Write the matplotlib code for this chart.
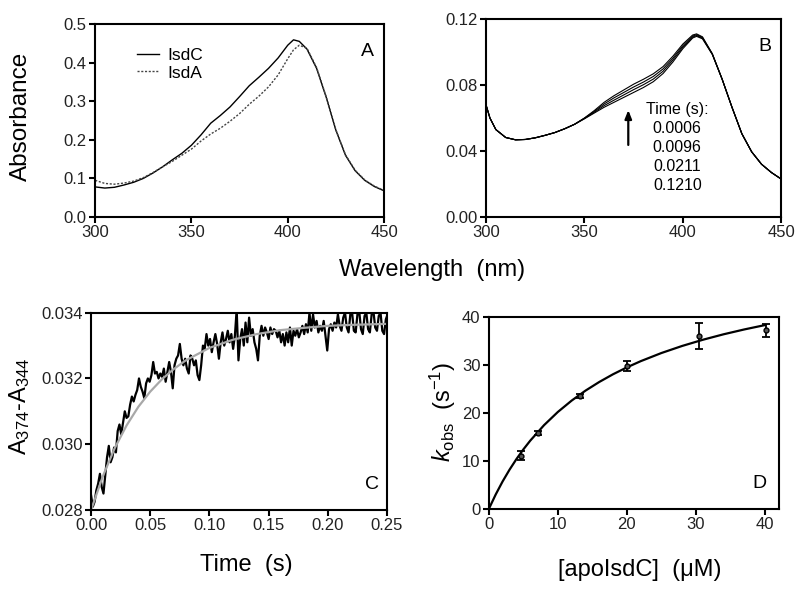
import matplotlib
matplotlib.use("Agg")
import matplotlib.pyplot as plt
import numpy as np

plt.rcParams["font.family"] = ["Liberation Sans", "DejaVu Sans"]
plt.rcParams["mathtext.fontset"] = "custom"
plt.rcParams["mathtext.rm"] = "Liberation Sans"
plt.rcParams["mathtext.it"] = "Liberation Sans:italic"
plt.rcParams["mathtext.default"] = "regular"

# Panel A: absorbance spectra
wl_a = [300, 305, 310, 315, 320, 325, 330, 335, 340, 345, 350, 355, 360, 365, 370, 375,
        380, 385, 390, 395, 400, 403, 406, 410, 415, 420, 425, 430, 435, 440, 445, 450]
abs_isdc = [0.078, 0.075, 0.077, 0.083, 0.090, 0.100, 0.114, 0.130, 0.148, 0.165, 0.186,
            0.213, 0.243, 0.263, 0.285, 0.312, 0.340, 0.362, 0.385, 0.412, 0.445, 0.459,
            0.455, 0.435, 0.385, 0.310, 0.225, 0.160, 0.120, 0.095, 0.079, 0.068]
abs_isda = [0.095, 0.087, 0.085, 0.088, 0.093, 0.102, 0.115, 0.130, 0.144, 0.160, 0.176,
            0.197, 0.215, 0.230, 0.248, 0.268, 0.292, 0.313, 0.337, 0.368, 0.410, 0.433,
            0.445, 0.437, 0.387, 0.311, 0.226, 0.161, 0.121, 0.096, 0.080, 0.069]

# Panel B: spectra at several times
wl_b = [300, 302, 305, 310, 315, 320, 325, 330, 335, 340, 345, 350, 355, 360, 365, 370, 375,
        380, 385, 390, 395, 400, 405, 407, 410, 415, 420, 425, 430, 435, 440, 445, 450]
spec_t1 = [0.0680, 0.0600, 0.0530, 0.0482, 0.0468, 0.0470, 0.0480, 0.0495, 0.0512, 0.0535,
           0.0562, 0.0595, 0.0630, 0.0665, 0.0695, 0.0725, 0.0755, 0.0785, 0.0820, 0.0870,
           0.0940, 0.1020, 0.1085, 0.1095, 0.1080, 0.0985, 0.0835, 0.0665, 0.0505, 0.0395,
           0.0320, 0.0270, 0.0230]
spec_t2 = [0.0680, 0.0600, 0.0530, 0.0482, 0.0468, 0.0470, 0.0480, 0.0495, 0.0512, 0.0535,
           0.0562, 0.0597, 0.0635, 0.0675, 0.0708, 0.0740, 0.0772, 0.0802, 0.0836, 0.0884,
           0.0952, 0.1029, 0.1091, 0.1100, 0.1084, 0.0987, 0.0835, 0.0665, 0.0505, 0.0395,
           0.0320, 0.0270, 0.0230]
spec_t3 = [0.0680, 0.0600, 0.0530, 0.0482, 0.0468, 0.0470, 0.0480, 0.0495, 0.0512, 0.0535,
           0.0562, 0.0599, 0.0640, 0.0685, 0.0722, 0.0755, 0.0788, 0.0818, 0.0852, 0.0898,
           0.0963, 0.1038, 0.1097, 0.1105, 0.1088, 0.0988, 0.0835, 0.0665, 0.0505, 0.0395,
           0.0320, 0.0270, 0.0230]
spec_t4 = [0.0680, 0.0600, 0.0530, 0.0482, 0.0468, 0.0470, 0.0480, 0.0495, 0.0512, 0.0535,
           0.0562, 0.0600, 0.0645, 0.0695, 0.0735, 0.0770, 0.0805, 0.0835, 0.0868, 0.0912,
           0.0975, 0.1048, 0.1103, 0.1110, 0.1092, 0.0990, 0.0835, 0.0665, 0.0505, 0.0395,
           0.0320, 0.0270, 0.0230]
time_labels = ["0.0006", "0.0096", "0.0211", "0.1210"]

# Panel C: stopped-flow trace (sampled every 1.5 ms) and fit
trace = [0.02845, 0.02810, 0.02825, 0.02860, 0.02880, 0.02910, 0.02870, 0.02850, 0.02905, 0.02960,
         0.02995, 0.02945, 0.02960, 0.02990, 0.02975, 0.03040, 0.03060, 0.03030, 0.03065, 0.03100,
         0.03080, 0.03085, 0.03120, 0.03145, 0.03130, 0.03150, 0.03165, 0.03200, 0.03175, 0.03160,
         0.03140, 0.03185, 0.03200, 0.03190, 0.03210, 0.03250, 0.03215, 0.03220, 0.03200, 0.03215,
         0.03205, 0.03230, 0.03190, 0.03220, 0.03250, 0.03220, 0.03170, 0.03240, 0.03260, 0.03270,
         0.03305, 0.03260, 0.03240, 0.03260, 0.03230, 0.03215, 0.03270, 0.03260, 0.03240, 0.03255,
         0.03210, 0.03195, 0.03240, 0.03300, 0.03290, 0.03335, 0.03300, 0.03320, 0.03280, 0.03310,
         0.03335, 0.03305, 0.03260, 0.03310, 0.03340, 0.03300, 0.03320, 0.03345, 0.03310, 0.03335,
         0.03290, 0.03330, 0.03410, 0.03255, 0.03320, 0.03350, 0.03300, 0.03370, 0.03310, 0.03385,
         0.03330, 0.03350, 0.03310, 0.03290, 0.03255, 0.03330, 0.03360, 0.03330, 0.03355, 0.03340,
         0.03320, 0.03355, 0.03335, 0.03350, 0.03345, 0.03325, 0.03345, 0.03310, 0.03335, 0.03300,
         0.03340, 0.03310, 0.03355, 0.03300, 0.03345, 0.03330, 0.03350, 0.03325, 0.03340, 0.03360,
         0.03335, 0.03365, 0.03340, 0.03400, 0.03345, 0.03395, 0.03355, 0.03375, 0.03340, 0.03360,
         0.03345, 0.03375, 0.03330, 0.03285, 0.03350, 0.03365, 0.03345, 0.03370, 0.03355, 0.03395,
         0.03360, 0.03345, 0.03385, 0.03400, 0.03355, 0.03340, 0.03395, 0.03400, 0.03345, 0.03340,
         0.03395, 0.03405, 0.03350, 0.03335, 0.03390, 0.03400, 0.03350, 0.03340, 0.03395, 0.03405,
         0.03355, 0.03345, 0.03390, 0.03400, 0.03345, 0.03335, 0.03380, 0.03395]
time_s = np.arange(len(trace)) * 0.0015
fit_t = [0.0, 0.01, 0.02, 0.03, 0.04, 0.05, 0.06, 0.07, 0.08, 0.10, 0.12, 0.14, 0.16, 0.18,
         0.20, 0.22, 0.25]
fit_a = [0.02800, 0.02903, 0.02988, 0.03057, 0.03114, 0.03160, 0.03198, 0.03229, 0.03255,
         0.03293, 0.03318, 0.03335, 0.03347, 0.03354, 0.03360, 0.03363, 0.03366]

# Panel D: kobs vs [apoIsdC]
conc = [4.6, 7.1, 13.2, 20.0, 30.5, 40.2]
kobs = [11.1, 15.9, 23.6, 29.8, 36.1, 37.2]
kobs_err = [0.9, 0.4, 0.4, 1.0, 2.7, 1.4]
fit_conc = [0, 1, 2, 3, 4, 5, 6, 8, 10, 12, 14, 16, 18, 20, 22, 25, 28, 31, 34, 37, 40]
fit_kobs = [0.0, 3.03, 5.75, 8.19, 10.40, 12.41, 14.24, 17.47, 20.22, 22.59, 24.66, 26.47,
            28.08, 29.51, 30.80, 32.50, 33.97, 35.26, 36.40, 37.41, 38.32]

fig = plt.figure(figsize=(8, 5.91), dpi=100)
axA = fig.add_axes([0.119, 0.6328, 0.361, 0.3266])
axB = fig.add_axes([0.6075, 0.6328, 0.369, 0.3350])
axC = fig.add_axes([0.1138, 0.1371, 0.370, 0.3338])
axD = fig.add_axes([0.611, 0.1387, 0.3625, 0.3249])

tick_col = "#222222"
for ax in (axA, axB, axC, axD):
    for s in ax.spines.values():
        s.set_linewidth(1.5)
    ax.tick_params(direction="out", length=4, width=1.5, labelsize=12,
                   labelcolor=tick_col, pad=2)

# A
axA.plot(wl_a, abs_isdc, color="black", lw=1.0, label="IsdC")
axA.plot(wl_a, abs_isda, color="#444444", lw=1.0, ls=(0, (1.5, 1.2)), label="IsdA")
axA.set_xlim(300, 450)
axA.set_ylim(0, 0.5)
axA.set_xticks([300, 350, 400, 450])
axA.set_yticks([0.0, 0.1, 0.2, 0.3, 0.4, 0.5])
axA.set_yticklabels(["0.0", "0.1", "0.2", "0.3", "0.4", "0.5"])
axA.legend(loc="upper left", bbox_to_anchor=(0.145, 0.875), frameon=False, fontsize=12.5,
           handlelength=1.27, handletextpad=0.46, labelspacing=0.12,
           borderpad=0, borderaxespad=0)
axA.text(0.941, 0.855, "A", transform=axA.transAxes, fontsize=14, ha="center", va="center")

# B
for spec in (spec_t1, spec_t2, spec_t3, spec_t4):
    axB.plot(wl_b, spec, color="black", lw=0.8)
axB.set_xlim(300, 450)
axB.set_ylim(0, 0.12)
axB.set_xticks([300, 350, 400, 450])
axB.set_yticks([0.0, 0.04, 0.08, 0.12])
axB.set_yticklabels(["0.00", "0.04", "0.08", "0.12"])
axB.annotate("", xy=(372.3, 0.0665), xytext=(372.3, 0.0420),
             arrowprops=dict(arrowstyle="-|>,head_length=0.5,head_width=0.2",
                             color="black", lw=1.6))
axB.text(0.543, 0.545, "Time (s):", transform=axB.transAxes, fontsize=11.5, ha="left",
         va="center")
for i, lab in enumerate(time_labels):
    axB.text(0.648, 0.449 - i * 0.096, lab, transform=axB.transAxes, fontsize=11.5,
             ha="center", va="center")
axB.text(0.946, 0.859, "B", transform=axB.transAxes, fontsize=14, ha="center", va="center")

# C
axC.plot(time_s, trace, color="black", lw=1.6)
axC.plot(fit_t, fit_a, color="#a8a8a8", lw=1.6)
axC.set_xlim(0, 0.25)
axC.set_ylim(0.028, 0.034)
axC.set_xticks([0.0, 0.05, 0.10, 0.15, 0.20, 0.25])
axC.set_xticklabels(["0.00", "0.05", "0.10", "0.15", "0.20", "0.25"])
axC.set_yticks([0.028, 0.030, 0.032, 0.034])
axC.set_yticklabels(["0.028", "0.030", "0.032", "0.034"])
axC.text(0.949, 0.127, "C", transform=axC.transAxes, fontsize=14, ha="center", va="center")

# D
axD.plot(fit_conc, fit_kobs, color="black", lw=1.6)
axD.errorbar(conc, kobs, yerr=kobs_err, fmt="o", color="black", ms=3.5, mfc="#555555",
             capsize=3, elinewidth=1.3, capthick=1.3)
axD.set_xlim(0, 42)
axD.set_ylim(0, 40)
axD.set_xticks([0, 10, 20, 30, 40])
axD.set_yticks([0, 10, 20, 30, 40])
axD.text(0.934, 0.135, "D", transform=axD.transAxes, fontsize=14, ha="center", va="center")

# axis labels
fig.text(21 / 800, 1 - 116 / 591, "Absorbance", rotation=90, fontsize=17.5,
         ha="center", va="center")
fig.text(432 / 800, 1 - 270 / 591, "Wavelength  (nm)", fontsize=17, ha="center", va="center")
fig.text(20 / 800, 1 - 406 / 591, "A$_{374}$-A$_{344}$", rotation=90, fontsize=17,
         ha="center", va="center")
fig.text(246 / 800, 1 - 565 / 591, "Time  (s)", fontsize=17, ha="center", va="center")
fig.text(443 / 800, 1 - 412 / 591, r"$\mathit{k}_{\mathrm{obs}}$  (s$^{-1}$)", rotation=90,
         fontsize=17, ha="center", va="center")
fig.text(640 / 800, 1 - 570 / 591, "[apoIsdC]  (μM)", fontsize=17, ha="center", va="center")

fig.savefig("out.png", dpi=100)
